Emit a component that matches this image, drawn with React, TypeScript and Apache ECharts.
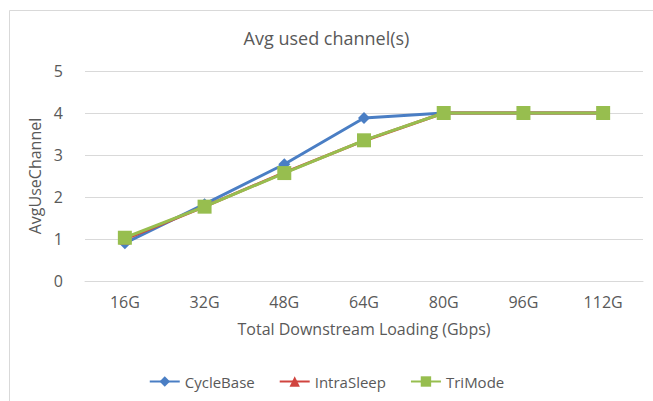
import React, { useEffect, useRef } from "react";
import * as echarts from "echarts";

const categories = ["16G", "32G", "48G", "64G", "80G", "96G", "112G"];
const cycleBase = [0.9, 1.83, 2.78, 3.88, 4, 4, 4];
const intraSleep = [1.0, 1.77, 2.58, 3.34, 4, 4, 4];
const triMode = [1.03, 1.77, 2.57, 3.35, 4, 4, 4];
const yTicks = [0, 5, 1];

const FONT = "'Open Sans', 'Noto Sans', sans-serif";
const TEXT = "#595959";

export default function App() {
  const ref = useRef<HTMLDivElement>(null);
  useEffect(() => {
    if (!ref.current) return;
    const chart = echarts.init(ref.current, undefined, { renderer: "svg" });
    chart.setOption({
      animation: false,
      backgroundColor: "#fff",
      textStyle: { fontFamily: FONT, color: TEXT },
      title: {
        text: "Avg used channel(s)",
        left: "center",
        top: 24,
        textStyle: { fontFamily: FONT, color: TEXT, fontSize: 18, fontWeight: "normal" },
      },
      graphic: [
        {
          type: "rect",
          shape: { x: 9.5, y: 10.5, width: 700, height: 420 },
          style: { fill: "none", stroke: "#d9d9d9", lineWidth: 1 },
          silent: true,
          z: -1,
        },
      ],
      grid: { left: 85, right: 10, top: 71, bottom: 120, containLabel: false },
      legend: {
        bottom: 7,
        left: "center",
        itemWidth: 30,
        itemHeight: 13,
        itemGap: 24,
        textStyle: { fontFamily: FONT, color: TEXT, fontSize: 15 },
        data: ["CycleBase", "IntraSleep", "TriMode"],
      },
      xAxis: {
        type: "category",
        data: categories,
        name: "Total Downstream Loading (Gbps)",
        nameLocation: "middle",
        nameGap: 40,
        nameTextStyle: { fontFamily: FONT, color: TEXT, fontSize: 16 },
        axisLine: { lineStyle: { color: "#d9d9d9", width: 1 } },
        axisTick: { show: false },
        axisLabel: { fontFamily: FONT, color: TEXT, fontSize: 16, margin: 13 },
      },
      yAxis: {
        type: "value",
        min: yTicks[0],
        max: yTicks[1],
        interval: yTicks[2],
        name: "AvgUseChannel",
        nameLocation: "middle",
        nameGap: 36,
        nameTextStyle: { fontFamily: FONT, color: TEXT, fontSize: 16 },
        axisLine: { show: false },
        axisTick: { show: false },
        axisLabel: { fontFamily: FONT, color: TEXT, fontSize: 16, margin: 22 },
        splitLine: { lineStyle: { color: "#d9d9d9", width: 1 } },
      },
      series: [
        {
          name: "CycleBase",
          type: "line",
          data: cycleBase,
          symbol: "diamond",
          symbolSize: 12,
          itemStyle: { color: "#4A7EC4" },
          lineStyle: { width: 3, color: "#4A7EC4" },
        },
        {
          name: "IntraSleep",
          type: "line",
          data: intraSleep,
          symbol: "triangle",
          symbolSize: 11,
          itemStyle: { color: "#D0443F" },
          lineStyle: { width: 3, color: "#D0443F" },
        },
        {
          name: "TriMode",
          type: "line",
          data: triMode,
          symbol: "rect",
          symbolSize: 14,
          itemStyle: { color: "#97BE4F" },
          lineStyle: { width: 3, color: "#97BE4F" },
        },
      ],
    });
    return () => chart.dispose();
  }, []);
  return <div ref={ref} style={{ width: 653, height: 401, position: "absolute", left: 0, top: 0 }} />;
}
